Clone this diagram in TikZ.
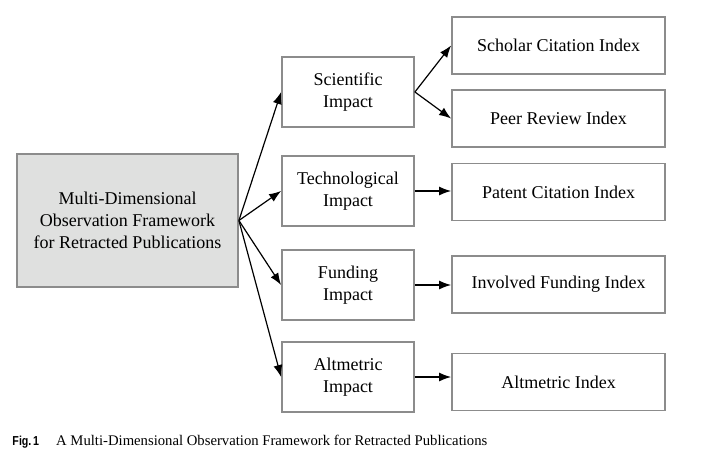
\documentclass[tikz,border=0pt]{standalone}
\usepackage{fontspec}
\setmainfont{Liberation Serif}
\setsansfont{Liberation Sans}
\usetikzlibrary{arrows.meta}
\definecolor{boxline}{HTML}{8C8C8C}
\definecolor{boxfill}{HTML}{DFE0DF}
\tikzset{
  basebox/.style={draw=boxline, line width=1.8pt, inner sep=0pt, align=center,
    font=\fontsize{18}{22}\selectfont, text=black},
  mainbox/.style={basebox, fill=boxfill, minimum width=221pt, minimum height=133pt},
  midbox/.style={basebox, fill=white, minimum width=132pt, minimum height=70pt},
  idxbox/.style={basebox, fill=white, minimum width=213pt, minimum height=57pt},
  conn/.style={line width=1.2pt, black, -{Latex[length=12pt,width=9pt]}},
  capnode/.style={inner sep=0pt, anchor=base west}
}
\begin{document}
\begin{tikzpicture}[x=1pt,y=-1pt]
\useasboundingbox (0,0) rectangle (710,458);
\node[mainbox] (main) at (127.5,220.5) {Multi-Dimensional\\Observation Framework\\for Retracted Publications};
\node[midbox] (sci) at (348,92) {Scientific\\Impact};
\node[midbox] (tech) at (348,191) {Technological\\Impact};
\node[midbox] (fund) at (348,285) {Funding\\Impact};
\node[midbox] (alt) at (348,377) {Altmetric\\Impact};
\node[idxbox] (sch) at (558.5,45.5) {Scholar Citation Index};
\node[idxbox] (peer) at (558.5,118.5) {Peer Review Index};
\node[idxbox] (pat) at (558.5,192) {Patent Citation Index};
\node[idxbox] (fidx) at (558.5,284.5) {Involved Funding Index};
\node[idxbox] (aidx) at (558.5,382) {Altmetric Index};
\draw[conn] (main.east) -- (sci.west);
\draw[conn] (main.east) -- (tech.west);
\draw[conn] (main.east) -- (fund.west);
\draw[conn] (main.east) -- (alt.west);
\draw[conn] (sci.east) -- (sch.west);
\draw[conn] (sci.east) -- (peer.west);
\draw[conn] (tech.east) -- (tech.east -| pat.west);
\draw[conn] (fund.east) -- (fund.east -| fidx.west);
\draw[conn] (alt.east) -- (alt.east -| aidx.west);
\node[capnode] (figlab) at (12.3,445) {\fontsize{13}{15}\selectfont\sffamily\bfseries\scalebox{0.82}[1]{Fig.\,1}};
\node[capnode] (captext) at (56,445) {\fontsize{14.7}{17}\selectfont A Multi-Dimensional Observation Framework for Retracted Publications};
\end{tikzpicture}
\end{document}
